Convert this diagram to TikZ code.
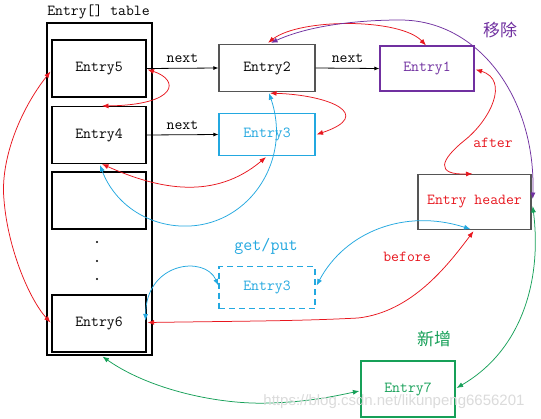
\documentclass[tikz,border=0pt]{standalone}
\usepackage{fontspec}
\setmainfont{Latin Modern Mono}
\newfontfamily\cjk{Noto Sans CJK SC}
\newfontfamily\wmfont{Liberation Sans}
\usetikzlibrary{arrows.meta,calc}
\definecolor{cred}{RGB}{232,22,30}
\definecolor{ccyan}{RGB}{35,168,224}
\definecolor{cpurple}{RGB}{112,48,160}
\definecolor{cgreen}{RGB}{22,160,88}
\definecolor{cgray}{RGB}{85,85,85}
\begin{document}
\begin{tikzpicture}[x=1pt,y=-1pt,
  txt/.style={font=\fontsize{15.3}{17}\selectfont, inner sep=0pt},
  box/.style={draw=black, line width=1.05pt, minimum width=94pt, minimum height=57pt, inner sep=0pt, font=\fontsize{15.3}{17}\selectfont},
  tip/.tip={Latex[length=6.5pt,width=5pt]},
  biarr/.style={line width=0.75pt, tip-tip},
  nextarr/.style={line width=0.8pt, -{Latex[length=5pt,width=4pt]}}
]
\useasboundingbox (0,0) rectangle (541,418);
\fill[white] (0,0) rectangle (541,418);

% table
\node[draw=black, line width=1.05pt, minimum width=105pt, minimum height=332pt, inner sep=0pt] (table) at (99.5,189) {};
\node[txt] (title) at (98.5,12) {Entry[] table};
\node[box] (e5) at (99,68.5) {Entry5};
\node[box] (e4) at (99,135) {Entry4};
\node[box] (eb) at (99,200.5) {};
\node[box] (e6) at (99,323.5) {Entry6};
\foreach \yy/\nm in {242/d1,261/d2,279/d3}
  \fill (97,\yy) circle (1.1pt) coordinate (\nm);

% other entries
\node[box, draw=cgray, line width=1.3pt, minimum width=96pt, minimum height=47pt] (e2) at (267,68) {Entry2};
\node[box, draw=cpurple, text=cpurple, line width=1.2pt, minimum width=94pt, minimum height=45pt] (e1) at (427,68.5) {Entry1};
\node[box, draw=ccyan, text=ccyan, line width=1.2pt, minimum width=96pt, minimum height=42pt] (e3) at (267,134.5) {Entry3};
\node[box, draw=cgray, line width=1.4pt, text=cred, minimum width=113pt, minimum height=55pt] (hdr) at (474.5,202) {Entry header};
\node[box, draw=ccyan, text=ccyan, line width=1.2pt, dashed, dash pattern=on 6pt off 4pt, minimum width=96pt, minimum height=42pt] (e3d) at (267,287.5) {Entry3};
\node[box, draw=cgreen, text=cgreen, line width=1.2pt, minimum width=94pt, minimum height=56pt] (e7) at (408,389) {Entry7};

% labels
\node[txt, text=ccyan, font=\fontsize{17.5}{19}\selectfont\bfseries] (gp) at (266,246) {get/put};
\node[txt, text=cpurple, font=\cjk\fontsize{17}{19}\selectfont] (rm) at (500,30) {移除};
\node[txt, text=cgreen, font=\cjk\fontsize{17}{19}\selectfont] (add) at (434,339) {新增};
\node[txt, text=cred] (after) at (493,143) {after};
\node[txt, text=cred] (before) at (407,257) {before};

% next arrows
\draw[nextarr] (e5.east) -- node[txt, above=5pt] (n1) {next} (e2.west);
\draw[nextarr] (e4.east) -- node[txt, above=5pt] (n2) {next} (e3.west);
\draw[nextarr] (e2.east) -- node[txt, above=5pt] (n3) {next} (e1.west);

% red connectors
\draw[biarr, cred] ($(e5.east)+(1,1)$) .. controls (180,80) and (178,105) .. ($(e4.north)+(3,0)$);
\draw[biarr, cred] ($(e4.south)+(3,0)$) .. controls (160,190) and (215,200) .. ($(e3.south)+(-1,1)$);
\draw[biarr, cred] ($(e2.south)+(3,1)$) .. controls (330,95) and (375,115) .. ($(e3.east)+(1,0)$);
\draw[biarr, cred] ($(e2.north)+(1,-1)$) .. controls (300,18) and (400,18) .. ($(e1.north)+(-1,0)$);
\draw[biarr, cred] ($(e1.east)+(1,1)$) .. controls (510,80) and (490,120) .. (465,140) .. controls (440,160) and (435,175) .. ($(hdr.north)+(-2,0)$);
\draw[biarr, cred] ($(e5.west)+(-1,3)$) .. controls (20,110) and (0,160) .. (4,200) .. controls (8,250) and (30,300) .. ($(e6.west)+(-1,-1)$);
\draw[biarr, cred] ($(e6.east)+(1,-1)$) .. controls (250,321) and (300,321) .. (358,318) .. controls (412,312) and (448,265) .. ($(hdr.south)+(-1,1)$);

% cyan connectors
\draw[biarr, ccyan] ($(e4.south)+(1,1)$) .. controls (115,205) and (150,228) .. (190,226) .. controls (250,223) and (292,160) .. ($(e2.south)+(2,1)$);
\draw[biarr, ccyan] ($(e6.east)+(-1,-3)$) .. controls (146,262) and (205,255) .. ($(e3d.west)+(0,-2)$);
\draw[biarr, ccyan] ($(e3d.east)+(1,-2)$) .. controls (345,232) and (405,208) .. ($(hdr.south)+(-4,-1)$);

% purple connector
\draw[biarr, cpurple] ($(e2.north)+(4,-1)$) .. controls (310,25) and (360,20) .. (400,20) .. controls (480,20) and (536,100) .. ($(hdr.east)+(1,-3)$);

% green connectors
\draw[biarr, cgreen] ($(hdr.east)+(1,4)$) .. controls (542,280) and (522,350) .. ($(e7.east)+(1,-1)$);
\draw[biarr, cgreen] ($(table.south)+(3,1)$) .. controls (150,390) and (220,405) .. (270,403) .. controls (310,402) and (340,395) .. ($(e7.west)+(-1,2)$);

% watermark
\node[inner sep=0pt, text=black!14, font=\wmfont\fontsize{15}{17}\selectfont] (wm) at (394,402) {https://blog.csdn.net/likunpeng6656201};
\end{tikzpicture}
\end{document}
